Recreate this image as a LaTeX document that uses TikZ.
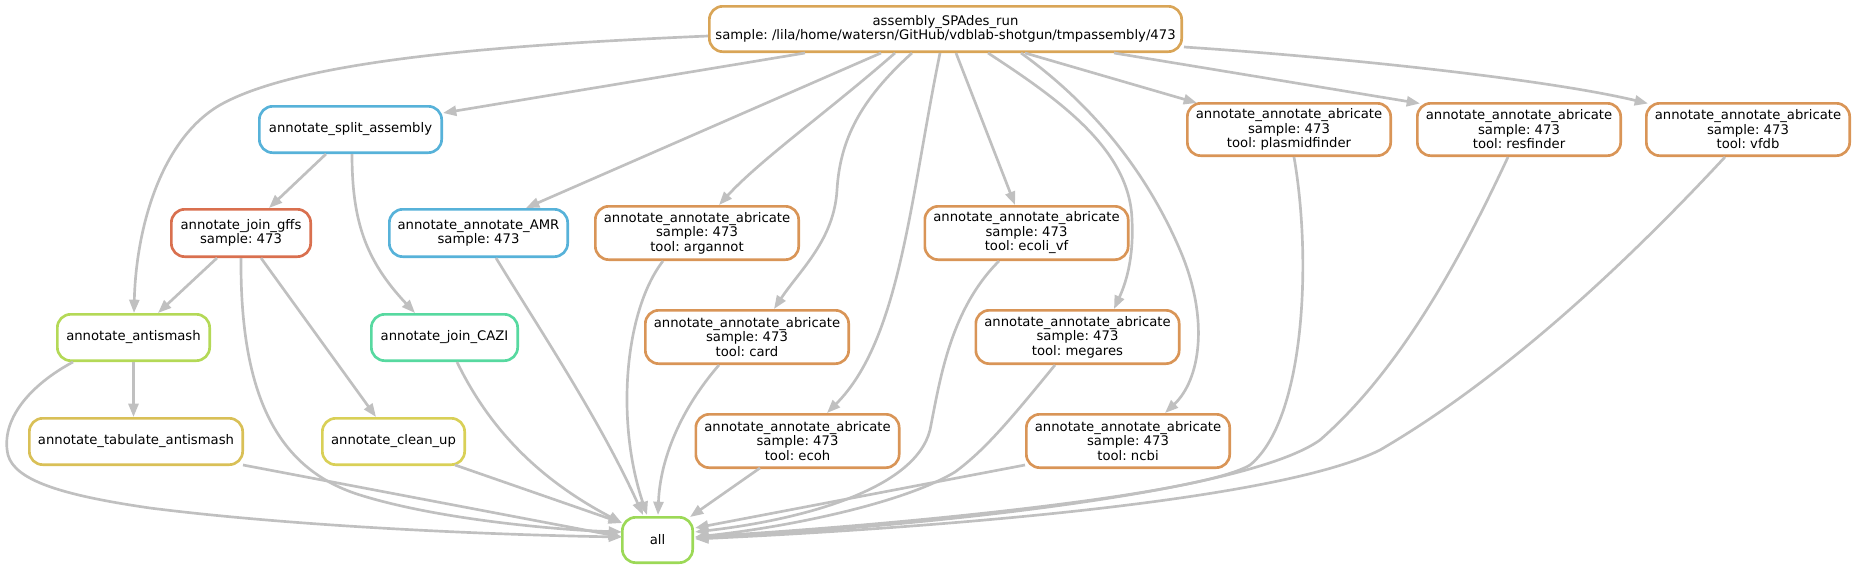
\documentclass[tikz,border=0pt]{standalone}
\usepackage{fontspec}
\setmainfont{DejaVu Sans}
\usetikzlibrary{arrows.meta}
\definecolor{cA}{HTML}{D9A557}
\definecolor{cab}{HTML}{D99557}
\definecolor{cbl}{HTML}{57B2D9}
\definecolor{cjg}{HTML}{D9704F}
\definecolor{cas}{HTML}{B4D957}
\definecolor{ctb}{HTML}{D9C057}
\definecolor{ccu}{HTML}{D9D057}
\definecolor{ccz}{HTML}{57D9A0}
\definecolor{call}{HTML}{9CD957}
\definecolor{eg}{HTML}{C0C0C0}
\frenchspacing
\begin{document}
\begin{tikzpicture}[x=0.75pt,y=-0.75pt,
  nd/.style={draw, rounded corners=10pt, line width=2pt, align=center, inner sep=0pt, fill=white, font=\fontsize{9.9pt}{10.9pt}\selectfont},
  sz/.style 2 args={minimum width={#1*0.75pt-2pt}, minimum height={#2*0.75pt-2pt}},
  ed/.style={draw=eg, line width=2pt, -{Triangle[length=10pt,width=7.5pt]}}]
\useasboundingbox (0,0) rectangle (1856,571);
% nodes
\node[nd, draw=cA, sz={475}{48}] (A) at (945.5,29) {assembly\_SPAdes\_run\\sample: /lila/home/watersn/GitHub/vdblab-shotgun/tmpassembly/473};
\node[nd, draw=cbl, sz={185}{49}] (S) at (350.5,129.5) {annotate\_split\_assembly};
\node[nd, draw=cjg, sz={142}{50}] (G) at (241,233) {annotate\_join\_gffs\\sample: 473};
\node[nd, draw=cbl, sz={181}{50}] (AMR) at (478.5,233) {annotate\_annotate\_AMR\\sample: 473};
\node[nd, draw=cab, sz={206}{56}] (arg) at (697,233) {annotate\_annotate\_abricate\\sample: 473\\tool: argannot};
\node[nd, draw=cab, sz={206}{56}] (ecv) at (1026.5,233) {annotate\_annotate\_abricate\\sample: 473\\tool: ecoli\_vf};
\node[nd, draw=cab, sz={206}{55}] (pla) at (1289,129.5) {annotate\_annotate\_abricate\\sample: 473\\tool: plasmidfinder};
\node[nd, draw=cab, sz={206}{55}] (res) at (1519,129.5) {annotate\_annotate\_abricate\\sample: 473\\tool: resfinder};
\node[nd, draw=cab, sz={206}{55}] (vfdb) at (1748,129.5) {annotate\_annotate\_abricate\\sample: 473\\tool: vfdb};
\node[nd, draw=cas, sz={155}{49}] (asm) at (133.5,337.5) {annotate\_antismash};
\node[nd, draw=ccz, sz={149}{49}] (caz) at (444.5,337.5) {annotate\_join\_CAZI};
\node[nd, draw=cab, sz={206}{56}] (card) at (747,337) {annotate\_annotate\_abricate\\sample: 473\\tool: card};
\node[nd, draw=cab, sz={206}{56}] (meg) at (1077.5,337) {annotate\_annotate\_abricate\\sample: 473\\tool: megares};
\node[nd, draw=ctb, sz={216}{49}] (tab) at (136,441.5) {annotate\_tabulate\_antismash};
\node[nd, draw=ccu, sz={145}{49}] (cln) at (393.5,441.5) {annotate\_clean\_up};
\node[nd, draw=cab, sz={206}{56}] (ecoh) at (797.5,441) {annotate\_annotate\_abricate\\sample: 473\\tool: ecoh};
\node[nd, draw=cab, sz={206}{56}] (ncbi) at (1128,441) {annotate\_annotate\_abricate\\sample: 473\\tool: ncbi};
\node[nd, draw=call, sz={73}{48}] (all) at (657.5,540) {all};
% edges from assembly
\draw[ed] ([shift={(-237.5,7)}]A.center) .. controls (500,45) and (300,60) .. (220,105) .. controls (160,140) and (136,230) .. ([shift={(0.5,-24.5)}]asm.center);
\draw[ed] ([shift={(-140.5,24)}]A.center) -- ([shift={(92.5,-16.5)}]S.center);
\draw[ed] ([shift={(-64.5,24)}]A.center) -- ([shift={(47.5,-25)}]AMR.center);
\draw[ed] ([shift={(-50.5,24)}]A.center) .. controls (830,110) and (760,160) .. ([shift={(22,-28)}]arg.center);
\draw[ed] ([shift={(-33.5,24)}]A.center) .. controls (860,100) and (840,140) .. (837,190) .. controls (834,240) and (800,270) .. ([shift={(27,-28)}]card.center);
\draw[ed] ([shift={(-5.5,24)}]A.center) .. controls (910,200) and (900,340) .. ([shift={(29.5,-28)}]ecoh.center);
\draw[ed] ([shift={(10.5,24)}]A.center) -- ([shift={(-11.5,-28)}]ecv.center);
\draw[ed] ([shift={(42.5,24)}]A.center) .. controls (1060,100) and (1130,150) .. (1132,220) .. controls (1134,260) and (1125,285) .. ([shift={(36.5,-28)}]meg.center);
\draw[ed] ([shift={(75.5,24)}]A.center) .. controls (1100,110) and (1150,180) .. (1180,250) .. controls (1210,320) and (1200,380) .. ([shift={(37,-28)}]ncbi.center);
\draw[ed] ([shift={(79.5,24)}]A.center) -- ([shift={(-92,-26.5)}]pla.center);
\draw[ed] ([shift={(168.5,24)}]A.center) -- ([shift={(-99,-26)}]res.center);
\draw[ed] ([shift={(238.5,18)}]A.center) .. controls (1350,58) and (1550,80) .. ([shift={(-100,-26)}]vfdb.center);
% split / gffs
\draw[ed] ([shift={(-24.5,24.5)}]S.center) -- ([shift={(28,-25)}]G.center);
\draw[ed] ([shift={(1.5,24.5)}]S.center) .. controls (352,220) and (365,260) .. ([shift={(-29.5,-24.5)}]caz.center);
\draw[ed] ([shift={(-24,25)}]G.center) -- ([shift={(24.5,-24.5)}]asm.center);
\draw[ed] ([shift={(20,25)}]G.center) -- ([shift={(-17.5,-24.5)}]cln.center);
\draw[ed] ([shift={(0,25)}]G.center) .. controls (240,400) and (280,470) .. (360,495) .. controls (440,520) and (560,530) .. ([shift={(-35.5,-8)}]all.center);
\draw[ed] (asm.south) -- (asm.south |- tab.north);
% into all
\draw[ed] ([shift={(-60.5,24.5)}]asm.center) .. controls (30,385) and (0,420) .. (8,455) .. controls (15,480) and (60,495) .. (150,508) .. controls (300,527) and (500,535) .. ([shift={(-35.5,-3)}]all.center);
\draw[ed] ([shift={(107,23.5)}]tab.center) -- ([shift={(-35.5,-3)}]all.center);
\draw[ed] ([shift={(61.5,23.5)}]cln.center) -- ([shift={(-35.5,-17)}]all.center);
\draw[ed] ([shift={(12.5,24.5)}]caz.center) .. controls (490,430) and (540,480) .. ([shift={(-35.5,-17)}]all.center);
\draw[ed] ([shift={(17.5,25)}]AMR.center) .. controls (540,330) and (600,420) .. ([shift={(-14.5,-25)}]all.center);
\draw[ed] ([shift={(-34,28)}]arg.center) .. controls (625,310) and (615,420) .. ([shift={(-10.5,-25)}]all.center);
\draw[ed] ([shift={(-28,28)}]card.center) .. controls (680,410) and (660,460) .. ([shift={(0.5,-25)}]all.center);
\draw[ed] ([shift={(-37.5,27)}]ecoh.center) -- ([shift={(32.5,-23)}]all.center);
\draw[ed] ([shift={(-27.5,28)}]ecv.center) .. controls (950,310) and (940,380) .. (930,430) .. controls (915,490) and (800,520) .. ([shift={(37.5,-8)}]all.center);
\draw[ed] ([shift={(-22.5,28)}]meg.center) .. controls (1010,420) and (985,450) .. (955,472) .. controls (900,505) and (780,528) .. ([shift={(37.5,-3)}]all.center);
\draw[ed] ([shift={(-103,24)}]ncbi.center) -- ([shift={(37.5,-12)}]all.center);
\draw[ed] ([shift={(5,27.5)}]pla.center) .. controls (1312,260) and (1305,420) .. (1250,465) .. controls (1200,495) and (900,525) .. ([shift={(37.5,-3)}]all.center);
\draw[ed] ([shift={(-11,27.5)}]res.center) .. controls (1460,260) and (1400,370) .. (1320,440) .. controls (1250,490) and (950,525) .. ([shift={(37.5,-2)}]all.center);
\draw[ed] ([shift={(-23,27.5)}]vfdb.center) .. controls (1620,270) and (1500,380) .. (1380,450) .. controls (1280,500) and (950,527) .. ([shift={(37.5,-1)}]all.center);
\end{tikzpicture}
\end{document}
